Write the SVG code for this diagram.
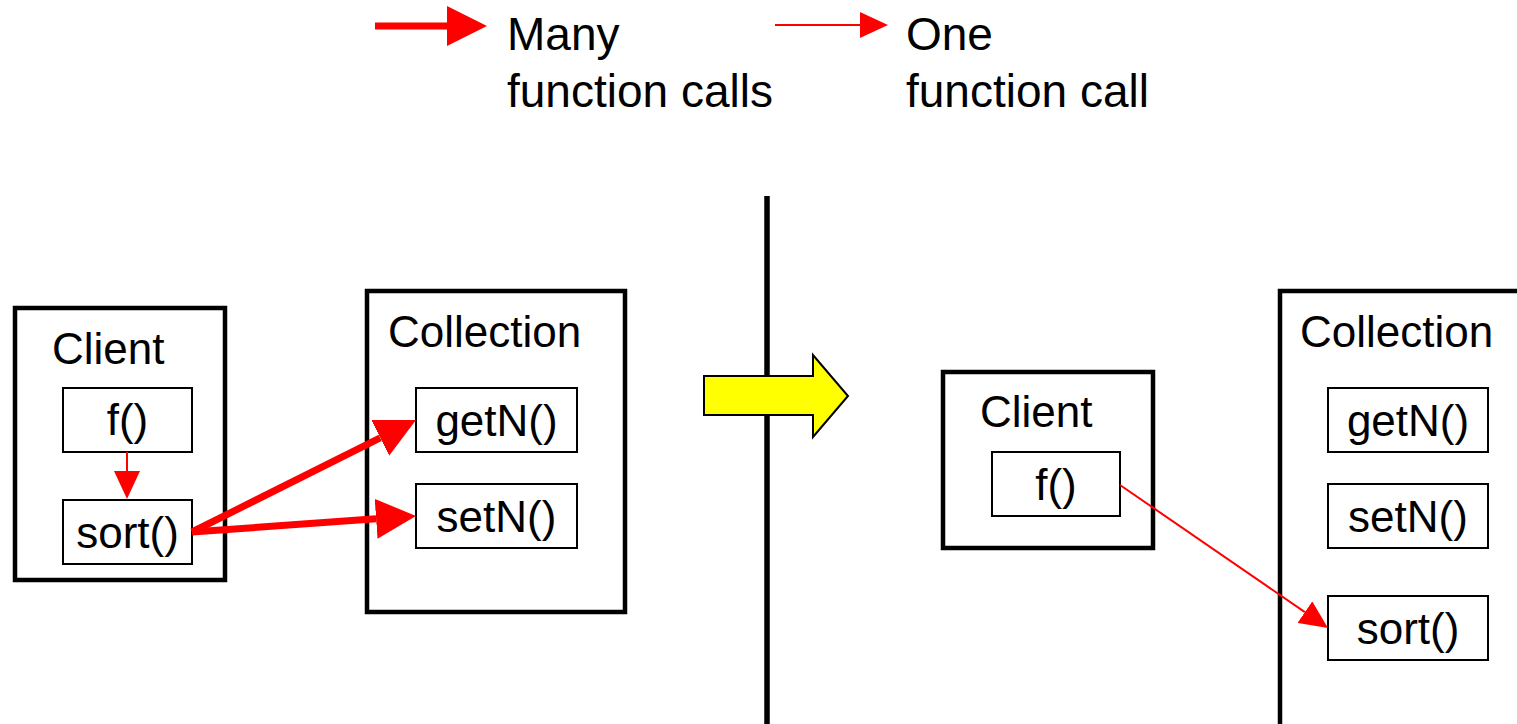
<svg xmlns="http://www.w3.org/2000/svg" width="1517" height="724" viewBox="0 0 1517 724">
<style>
text{font-family:"Liberation Sans",Arial,sans-serif;font-size:44px;fill:#000}
.leg{font-size:46px}
.outer{fill:#fff;stroke:#000;stroke-width:4.5}
.inner{fill:#fff;stroke:#000;stroke-width:2}
.thick{stroke:#f00;stroke-width:7;fill:none}
.thin{stroke:#f00;stroke-width:2;fill:none}
.mid{text-anchor:middle}
</style>
<defs>
<marker id="hk" markerUnits="userSpaceOnUse" viewBox="0 -20 40 40" markerWidth="40" markerHeight="40" refX="0" refY="0" orient="auto"><path d="M0,-20 L40,0 L0,20 z" fill="#f00"/></marker>
<marker id="hn" markerUnits="userSpaceOnUse" viewBox="0 -13 28 26" markerWidth="28" markerHeight="26" refX="0" refY="0" orient="auto"><path d="M0,-13 L28,0 L0,13 z" fill="#f00"/></marker>
</defs>
<rect width="1517" height="724" fill="#fff"/>
<g id="legend">
<line class="thick" x1="375" y1="26" x2="447" y2="26" marker-end="url(#hk)"/>
<text class="leg" x="507" y="50">Many</text>
<text class="leg" x="507" y="107">function calls</text>
<line class="thin" x1="775" y1="25" x2="860" y2="25" marker-end="url(#hn)"/>
<text class="leg" x="906" y="50">One</text>
<text class="leg" x="906" y="107">function call</text>
</g>
<g id="divider"><line x1="767" y1="196" x2="767" y2="724" stroke="#000" stroke-width="5.5"/></g>
<g id="transform-arrow"><path d="M704,376 L813,376 L813,355 L848,396 L813,437 L813,415 L704,415 z" fill="#ff0" stroke="#000" stroke-width="2"/></g>
<g id="client-left">
<rect class="outer" x="15" y="308" width="210" height="272"/>
<text x="52" y="364">Client</text>
</g>
<g id="f-left"><rect class="inner" x="63" y="388" width="129" height="64"/><text class="mid" x="127.5" y="435">f()</text></g>
<g id="sort-left"><rect class="inner" x="63" y="500" width="129" height="64"/><text class="mid" x="127.5" y="548">sort()</text></g>
<g id="collection-left">
<rect class="outer" x="367" y="291" width="258" height="321"/>
<text x="388" y="347">Collection</text>
</g>
<g id="getN-left"><rect class="inner" x="416" y="388" width="161" height="64"/><text class="mid" x="496.5" y="436">getN()</text></g>
<g id="setN-left"><rect class="inner" x="416" y="484" width="161" height="64"/><text class="mid" x="496.5" y="532">setN()</text></g>
<g id="client-right">
<rect class="outer" x="943" y="372" width="210" height="176"/>
<text x="980" y="427">Client</text>
</g>
<g id="f-right"><rect class="inner" x="992" y="452" width="128" height="64"/><text class="mid" x="1056" y="500">f()</text></g>
<g id="collection-right">
<rect class="outer" x="1280" y="291" width="250" height="440"/>
<text x="1300" y="347">Collection</text>
</g>
<g id="getN-right"><rect class="inner" x="1328" y="388" width="160" height="64"/><text class="mid" x="1408" y="436">getN()</text></g>
<g id="setN-right"><rect class="inner" x="1328" y="484" width="160" height="64"/><text class="mid" x="1408" y="532">setN()</text></g>
<g id="sort-right"><rect class="inner" x="1328" y="596" width="160" height="64"/><text class="mid" x="1408" y="644">sort()</text></g>
<g id="connectors">
<line class="thin" x1="127" y1="452" x2="127" y2="471" marker-end="url(#hn)"/>
<line class="thick" x1="192" y1="532" x2="380.2" y2="437.9" marker-end="url(#hk)"/>
<line class="thick" x1="192" y1="532" x2="376.1" y2="518.8" marker-end="url(#hk)"/>
<line class="thin" x1="1120" y1="485" x2="1304.9" y2="612.1" marker-end="url(#hn)"/>
</g>
</svg>
